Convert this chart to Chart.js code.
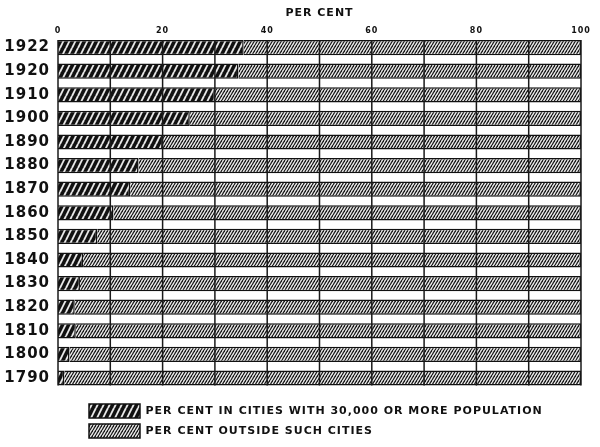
<!DOCTYPE html>
<html>
<head>
<meta charset="utf-8">
<script src="https://cdn.jsdelivr.net/npm/chart.js@4/dist/chart.umd.min.js"></script>
<style>
  html, body { margin: 0; padding: 0; background: #fff; }
  #wrap { width: 600px; height: 447px; }
</style>
</head>
<body>
<div id="wrap"><canvas id="cityChart" width="600" height="447"></canvas></div>
<script>
// Census years, newest first
const years = ['1922', '1920', '1910', '1900', '1890', '1880', '1870', '1860', '1850', '1840', '1830', '1820', '1810', '1800', '1790'];
// Per cent living in cities with 30,000 or more
const inCities = [35.5, 34.5, 30.0, 25.2, 20.0, 15.4, 13.8, 10.6, 7.5, 4.8, 4.2, 3.2, 3.4, 2.2, 1.2];
// Per cent living outside those cities
const outsideCities = [64.5, 65.5, 70.0, 74.8, 80.0, 84.6, 86.2, 89.4, 92.5, 95.2, 95.8, 96.8, 96.6, 97.8, 98.8];
// Grid every 10, labels every 20
const gridSteps = [0, 10, 20, 30, 40, 50, 60, 70, 80, 90, 100];

const FONT = "'DejaVu Sans', sans-serif";

// diagonal hatch tile, lines running bottom-left to top-right
function hatch(w, h, bg, fg, lw) {
  const c = document.createElement('canvas');
  c.width = w;
  c.height = h;
  const g = c.getContext('2d');
  g.fillStyle = bg;
  g.fillRect(0, 0, w, h);
  g.strokeStyle = fg;
  g.lineWidth = lw;
  for (let k = -1; k <= 1; k++) {
    g.beginPath();
    g.moveTo(k * w, h);
    g.lineTo((k + 1) * w, 0);
    g.stroke();
  }
  return g.createPattern(c, 'repeat');
}

const darkHatch = hatch(6, 12, '#111', '#e8e8e8', 1.9);
const lightHatch = hatch(3, 5, '#f4f4f4', '#1c1c1c', 1.35);

// wide-spaced lettering for every label
const spacing = {
  id: 'spacing',
  beforeUpdate(chart) { chart.ctx.letterSpacing = '1px'; },
  beforeDraw(chart) { chart.ctx.letterSpacing = '1px'; }
};

// vertical rules run only from the top bar to the bottom bar
const frameGrid = {
  id: 'frameGrid',
  afterDatasetsDraw(chart) {
    const bars = chart.getDatasetMeta(0).data;
    const first = bars[0].getProps(['y', 'height'], true);
    const last = bars[bars.length - 1].getProps(['y', 'height'], true);
    const top = first.y - first.height / 2;
    const bottom = last.y + last.height / 2;
    const ctx = chart.ctx;
    ctx.save();
    ctx.strokeStyle = '#1a1a1a';
    ctx.lineWidth = 1.5;
    gridSteps.forEach(v => {
      const x = chart.scales.x.getPixelForValue(v);
      ctx.beginPath();
      ctx.moveTo(x, top);
      ctx.lineTo(x, bottom);
      ctx.stroke();
    });
    ctx.restore();
  }
};

// legend sits under the plot, indented, stacked in two rows
const legendPlace = {
  id: 'legendPlace',
  afterLayout(chart) {
    chart.legend.left = 83;
    chart.legend.top = 398;
  }
};

const chart = new Chart(document.getElementById('cityChart'), {
  type: 'bar',
  data: {
    labels: years,
    datasets: [
      {
        label: 'PER CENT IN CITIES WITH 30,000 OR MORE POPULATION',
        data: inCities,
        backgroundColor: darkHatch,
        borderColor: '#111',
        borderWidth: 1.5
      },
      {
        label: 'PER CENT OUTSIDE SUCH CITIES',
        data: outsideCities,
        backgroundColor: lightHatch,
        borderColor: '#111',
        borderWidth: 1.5
      }
    ]
  },
  options: {
    indexAxis: 'y',
    responsive: false,
    animation: false,
    categoryPercentage: 1,
    barPercentage: 0.644,
    layout: { padding: { top: 0, left: 0, right: 19, bottom: 7.2 } },
    scales: {
      x: {
        position: 'top',
        stacked: true,
        min: 0,
        max: 100,
        grid: { display: false, drawTicks: false },
        border: { display: false },
        ticks: {
          stepSize: 20,
          padding: 0,
          color: '#111',
          font: { family: FONT, size: 8, weight: 'bold' }
        },
        title: {
          display: true,
          text: 'PER CENT',
          color: '#111',
          padding: { top: 7, bottom: 0 },
          font: { family: FONT, size: 11, weight: 'bold' }
        },
        afterFit(scale) { scale.height = 35.8; }
      },
      y: {
        stacked: true,
        grid: { display: false, drawTicks: false },
        border: { display: false },
        ticks: {
          padding: 8,
          color: '#111',
          font: { family: FONT, size: 15, weight: 'bold' }
        },
        afterFit(scale) { scale.width = 58; }
      }
    },
    plugins: {
      legend: {
        position: 'bottom',
        align: 'start',
        labels: {
          boxWidth: 51,
          boxHeight: 14,
          padding: 6,
          color: '#111',
          font: { family: FONT, size: 11, weight: 'bold' }
        }
      },
      tooltip: { enabled: false }
    }
  },
  plugins: [spacing, frameGrid, legendPlace]
});
</script>
</body>
</html>
